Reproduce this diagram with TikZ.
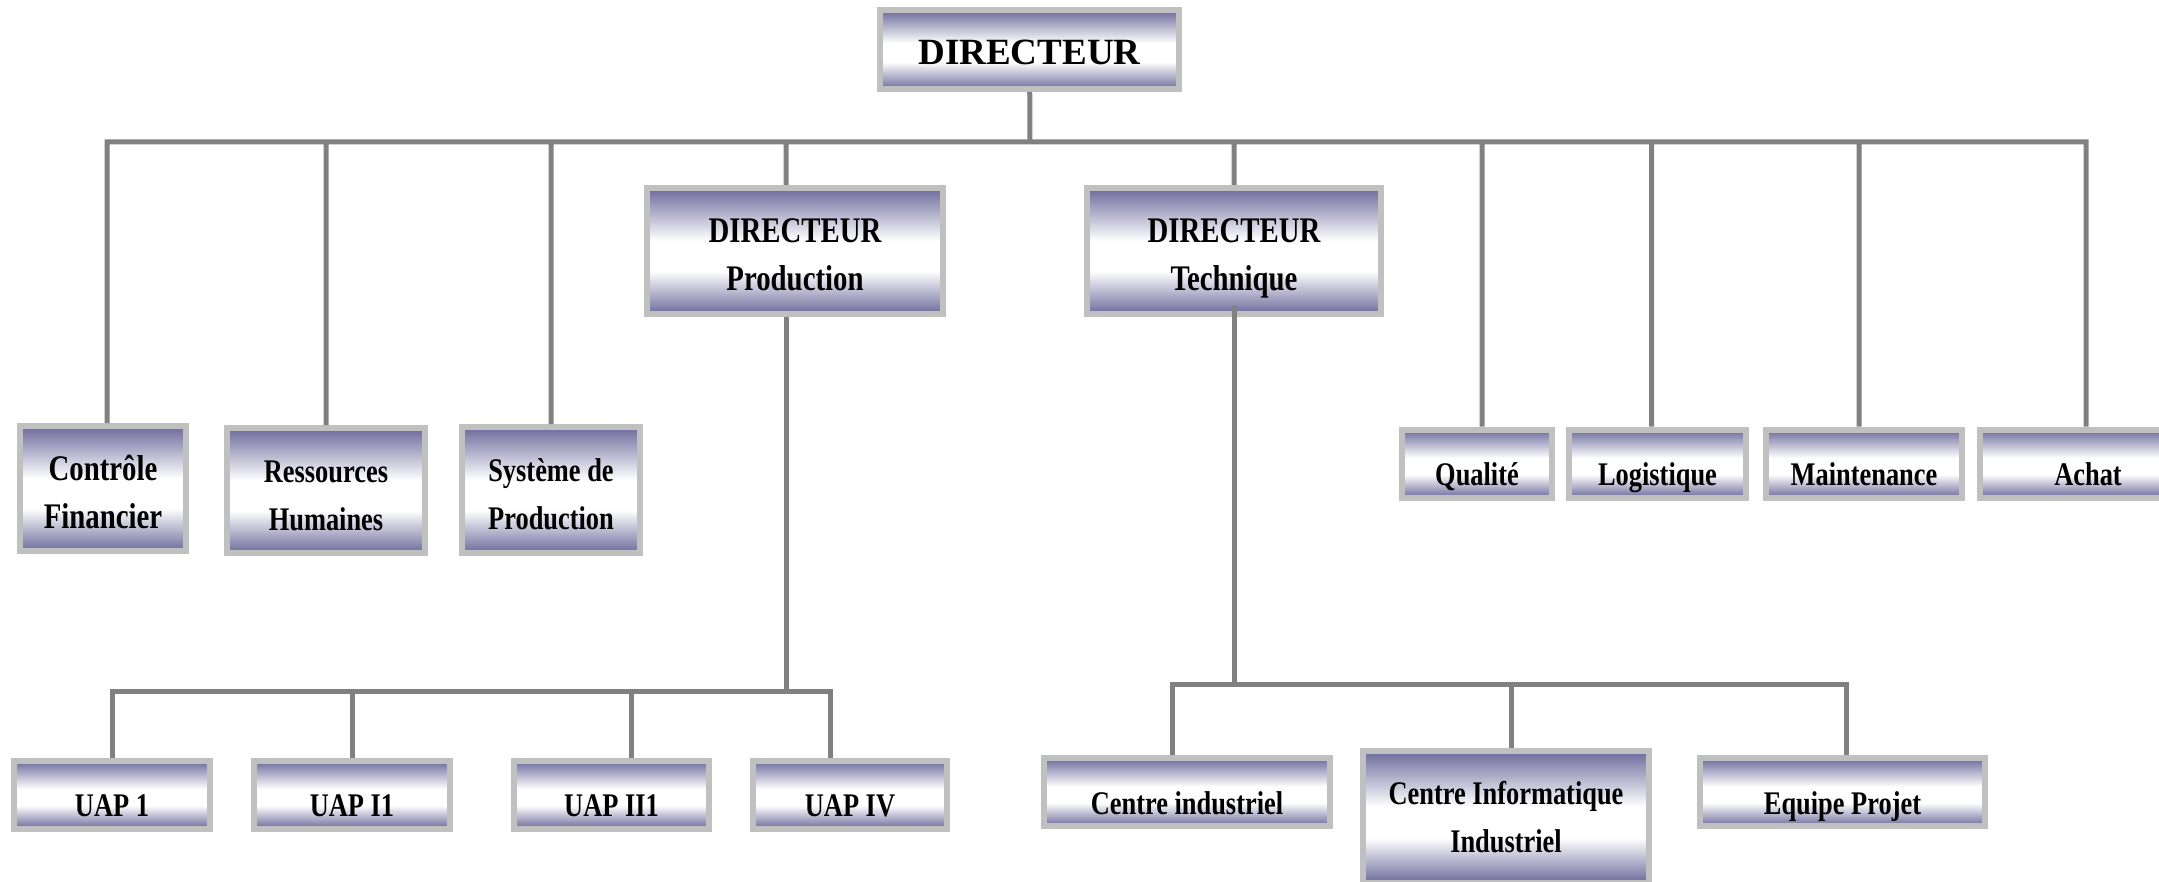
\documentclass[tikz,border=0pt]{standalone}
\usepackage{fontspec}
\setmainfont{Liberation Serif}
\newfontfamily\boxfont{Liberation Serif}[FakeStretch=0.8]
\usepackage{tikz}
\definecolor{boxblue}{RGB}{108,106,155}
\definecolor{boxgrey}{RGB}{192,192,192}
\definecolor{linegrey}{RGB}{128,128,128}
\pgfdeclareverticalshading{boxshade}{100bp}{color(0bp)=(boxblue); color(25bp)=(boxblue); color(42bp)=(white); color(54bp)=(white); color(75bp)=(boxblue); color(100bp)=(boxblue)}

\begin{document}
\begin{tikzpicture}[x=0.5pt, y=-0.5pt,
    unit/.style={draw=boxgrey, line width=3pt, shading=boxshade, inner sep=0pt, align=center,
                 font=\boxfont\bfseries\fontsize{16.5}{24}\selectfont},
    bigtext/.style={font=\boxfont\bfseries\fontsize{18}{24}\selectfont},
    low/.style={text height=28pt, text depth=6pt},
    link/.style={draw=linegrey, line width=2.5pt}]
      \useasboundingbox (0,0) rectangle (2159,882);
      % top
      \node[unit, minimum width=149.5pt, minimum height=39.5pt, font=\bfseries\fontsize{18.5}{22}\selectfont] (dir) at (1029.5,49.5) {\rule{0pt}{15.2pt}DIRECTEUR};
      \node[unit, bigtext, minimum width=148pt, minimum height=63pt] (dprod) at (795,251) {\rule{0pt}{16pt}DIRECTEUR\\Production};
      \node[unit, bigtext, minimum width=147pt, minimum height=63pt] (dtech) at (1234,251) {\rule{0pt}{19pt}DIRECTEUR\\Technique};
      % services
      \node[unit, bigtext, minimum width=83pt, minimum height=62.5pt] (cf) at (103,488.5) {\rule{0pt}{16.5pt}Contrôle\\Financier};
      \node[unit, minimum width=99pt, minimum height=62.5pt] (rh) at (326,490.5) {\rule{0pt}{16pt}Ressources\\Humaines};
      \node[unit, minimum width=89pt, minimum height=63pt] (sp) at (551,490) {\rule{0pt}{16pt}Système de\\Production};
      \node[unit, low, minimum width=75pt] (qual) at (1477,463.5) {Qualité};
      \node[unit, low, minimum width=88.5pt] (logi) at (1657.5,463.5) {Logistique};
      \node[unit, low, minimum width=98pt] (maint) at (1864,463.5) {Maintenance};
      \node[unit, low, minimum width=108pt] (achat) at (2088,463.5) {Achat};
      % production
      \node[unit, low, minimum width=98pt] (uap1) at (112,794.5) {UAP 1};
      \node[unit, low, minimum width=98pt] (uap2) at (352,794.5) {UAP I1};
      \node[unit, low, minimum width=97.5pt] (uap3) at (611.5,794.5) {UAP II1};
      \node[unit, low, minimum width=97pt] (uap4) at (850,794.5) {UAP IV};
      % technique
      \node[unit, low, minimum width=143pt] (ci) at (1187,792) {Centre industriel};
      \node[unit, minimum width=143pt, minimum height=66pt] (cii) at (1506,817) {Centre Informatique\\Industriel};
      \node[unit, low, minimum width=142.5pt] (ep) at (1842.5,792) {Equipe Projet};

      \coordinate (bus) at (1030,142);
      \coordinate (pbus) at (786,691);
      \coordinate (tbus) at (1234,684);
      \draw[link] (dir) -- (bus)
            (bus) -| ([xshift=2pt]cf.north) (bus) -| (rh) (bus) -| (sp)
            (bus) -| ([xshift=-4.5pt]dprod.north) (bus) -| (dtech)
            (bus) -| ([xshift=2.5pt]qual.north) (bus) -| ([xshift=-3pt]logi.north)
            (bus) -| ([xshift=-2.5pt]maint.north) (bus) -| ([xshift=-1pt]achat.north);
      \draw[link] ([xshift=-4.5pt]dprod.south) -- (pbus)
            (pbus) -| (uap1) (pbus) -| (uap2)
            (pbus) -| ([xshift=10pt]uap3.north) (pbus) -| ([xshift=-10pt]uap4.north);
      \draw[link] ([yshift=5.5pt]dtech.south) -- (tbus)
            (tbus) -| ([xshift=-7.5pt]ci.north) (tbus) -| ([xshift=2.5pt]cii.north)
            (tbus) -| ([xshift=2pt]ep.north);
    \end{tikzpicture}
\end{document}
